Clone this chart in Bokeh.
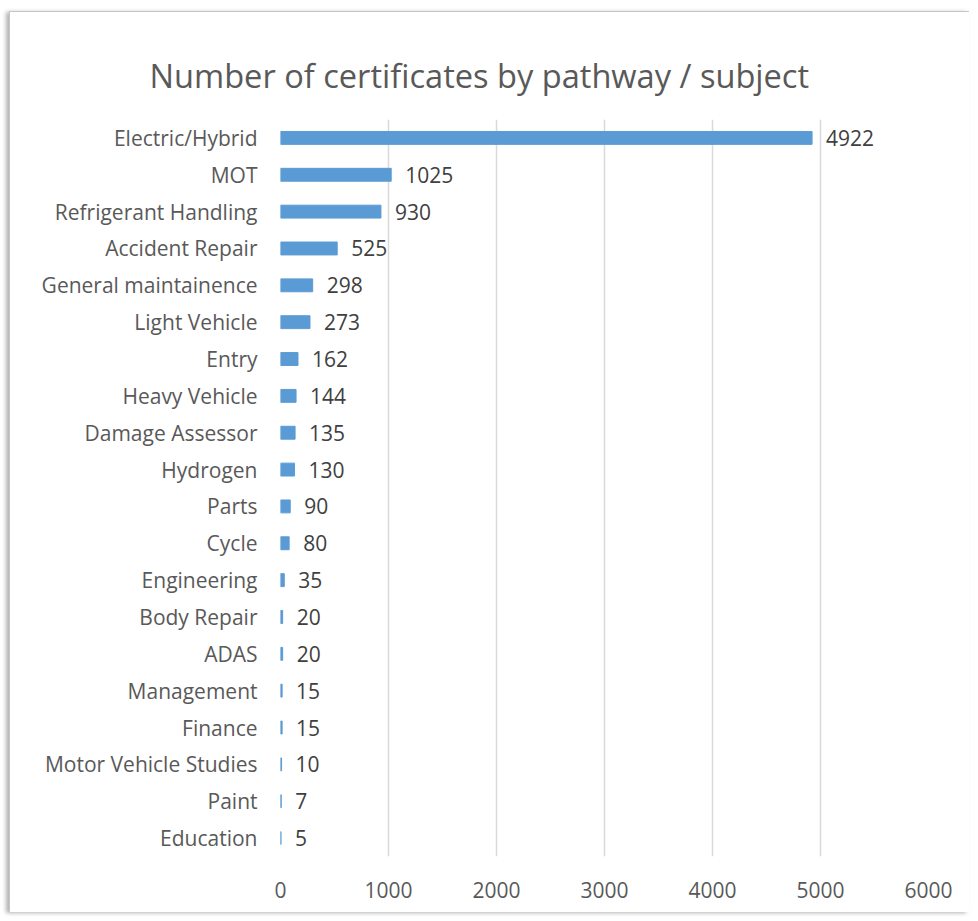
from bokeh.plotting import figure
from bokeh.models import ColumnDataSource, LabelSet, FactorRange, Range1d, FixedTicker, Title
from bokeh.core.properties import value
from bokeh.embed import file_html
from bokeh.resources import INLINE

categories = ["Electric/Hybrid", "MOT", "Refrigerant Handling", "Accident Repair",
              "General maintainence", "Light Vehicle", "Entry", "Heavy Vehicle",
              "Damage Assessor", "Hydrogen", "Parts", "Cycle", "Engineering",
              "Body Repair", "ADAS", "Management", "Finance", "Motor Vehicle Studies",
              "Paint", "Education"]
values = [4922, 1025, 930, 525, 298, 273, 162, 144, 135, 130, 90, 80, 35, 20, 20, 15, 15, 10, 7, 5]
x_ticks = [0, 1000, 2000, 3000, 4000, 5000, 6000]

src = ColumnDataSource(dict(cat=categories, val=values, lab=[str(v) for v in values]))

p = figure(width=960, height=901, output_backend="svg", toolbar_location=None,
           y_range=FactorRange(factors=categories[::-1], range_padding=0),
           x_range=Range1d(0, 6000),
           min_border_left=270, min_border_right=42, min_border_top=107, min_border_bottom=57)
p.margin = (11, 0, 0, 9)
p.styles = {"border-left": "1px solid #c6c6c6", "border-top": "1px solid #c6c6c6",
            "box-shadow": "-3px 1px 4px rgba(0,0,0,0.3)"}
p.outline_line_color = None

t = Title(text="Number of certificates by pathway / subject", align="left",
          text_font="Open Sans", text_font_size="32.6px", text_font_style="normal",
          text_color="#595959", offset=-131, standoff=43)
p.add_layout(t, "above")

p.hbar(y="cat", right="val", left=0, height=0.35, source=src, color="#5B9BD5")

labels = LabelSet(x="val", y="cat", text="lab", source=src, x_offset=14,
                  text_baseline="middle", text_align="left", text_font_size="21px",
                  text_font=value("Open Sans"), text_color="#404040")
p.add_layout(labels)

p.xaxis.ticker = FixedTicker(ticks=x_ticks)
for ax in (p.xaxis[0], p.yaxis[0]):
    ax.axis_line_color = None
    ax.major_tick_line_color = None
    ax.minor_tick_line_color = None
    ax.major_label_text_font = "Open Sans"
    ax.major_label_text_color = "#595959"
    ax.major_label_text_font_size = "21px"
p.xaxis.major_label_standoff = 19
p.yaxis.major_label_standoff = 17

p.ygrid.grid_line_color = None
p.xgrid.grid_line_color = "#d9d9d9"
p.xgrid.grid_line_width = 1.5
p.background_fill_color = "white"
p.border_fill_color = "white"

open("out.html", "w").write(file_html(p, INLINE))
